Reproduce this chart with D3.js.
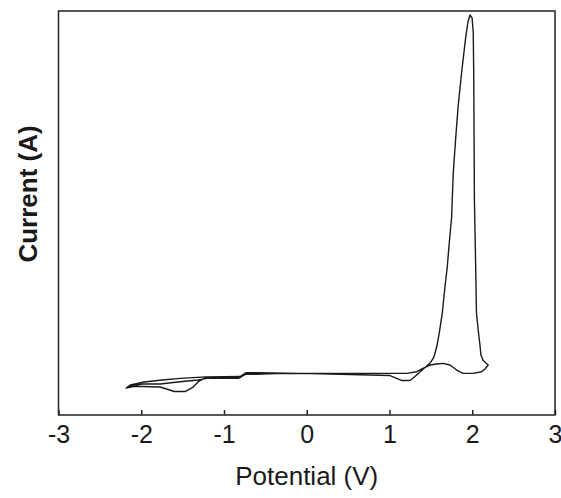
<!DOCTYPE html>
<html>
<head>
	<title>Cyclic voltammogram</title>
	<script src="https://d3js.org/d3.v7.min.js"></script>
	<style>
		body { margin: 0; background: #fff; }
		text { font-family: Arial, "Liberation Sans", sans-serif; fill: #1a1a1a; }
	</style>
</head>
<body>
<script>
// potential (V), current (arbitrary units)
var sweepForward = [
	[-2.182,-4.06], [-2.098,-3.64], [-1.989,-3.64], [-1.772,-3.78], [-1.675,-4.47],
	[-1.603,-5.02], [-1.470,-5.02], [-1.373,-3.78], [-1.301,-2.13], [-1.216,-1.16],
	[-0.806,-1.02], [-0.757,-0.47], [-0.721,-0.06], [-0.588,-0.06], [-0.081,0],
	[0.644,-0.41], [1.006,-0.61], [1.078,-1.30], [1.151,-1.99], [1.248,-1.99],
	[1.308,-0.88], [1.368,0.36], [1.429,1.60], [1.490,2.84], [1.537,4.50],
	[1.570,7.26], [1.601,11.12], [1.638,16.64], [1.670,23.82], [1.698,29.34],
	[1.722,35.96], [1.751,43.14], [1.758,47.83], [1.771,55.58], [1.800,64.96],
	[1.831,74.07], [1.872,83.16], [1.920,92.55], [1.948,96.96], [1.973,98.90],
	[1.998,98.07], [2.012,94.0], [2.018,82.33], [2.026,47.83], [2.040,31.27],
	[2.051,16.64], [2.072,11.95], [2.093,7.81], [2.105,5.05], [2.129,3.67],
	[2.165,2.84], [2.193,2.29]
];
var sweepReverse = [
	[2.193,2.29], [2.153,1.19], [2.114,0.44], [2.008,0], [1.888,0],
	[1.812,0.91], [1.731,2.29], [1.646,2.76], [1.570,2.57], [1.490,2.29],
	[1.405,1.38], [1.329,0.44], [1.208,0], [0.644,0], [-0.081,0],
	[-0.588,0.17], [-0.733,0.17], [-0.769,-0.33], [-0.806,-0.88], [-1.216,-0.97],
	[-1.530,-1.38], [-1.748,-1.85], [-1.989,-2.48], [-2.134,-3.23], [-2.182,-4.06]
];
var sweepSecond = [
	[-2.182,-4.06], [-2.155,-3.70], [-1.993,-2.95], [-1.772,-2.95], [-1.530,-2.32],
	[-1.309,-1.85], [-1.208,-1.38], [-0.826,-1.38], [-0.785,-0.88], [-0.745,-0.28],
	[-0.604,-0.28], [-0.300,0], [0,0]
];
var xTicks = [-3, -2, -1, 0, 1, 2, 3];
var xDomain = [-3, 3];
var yDomain = [-11.5, 100];

var W = 561, H = 498;
var mLeft = 58.5, mRight = 555, mTop = 11, mBottom = 415;

var svg = d3.select("body")
	.append("svg")
	.attr("width", W)
	.attr("height", H);

var x = d3.scaleLinear().domain(xDomain).range([mLeft, mRight]);
var y = d3.scaleLinear().domain(yDomain).range([mBottom, mTop]);

// x axis, ticks pointing into the plot
var xAxis = svg.append("g")
	.attr("transform", "translate(0," + mBottom + ")")
	.call(d3.axisBottom(x).tickValues(xTicks).tickFormat(d3.format("d"))
		.tickSizeInner(-5).tickSizeOuter(0).tickPadding(10));
xAxis.select(".domain").remove();
xAxis.selectAll("line").attr("stroke", "#222").attr("stroke-width", 1.5);
xAxis.selectAll("text")
	.style("font-size", "25px")
	.attr("fill", "#1a1a1a")
	.attr("font-family", "Arial, 'Liberation Sans', sans-serif")
	.text(function(d) { return d < 0 ? "-" + Math.abs(d) : d; });

// frame
svg.append("rect")
	.attr("x", mLeft).attr("y", mTop)
	.attr("width", mRight - mLeft).attr("height", mBottom - mTop)
	.attr("fill", "none")
	.attr("stroke", "#222")
	.attr("stroke-width", 1.5);

var line = d3.line()
	.x(function(d) { return x(d[0]); })
	.y(function(d) { return y(d[1]); });

var allPoints = sweepForward.concat(sweepReverse.slice(1), sweepSecond.slice(1));
svg.append("path")
	.datum(allPoints)
	.attr("d", line)
	.attr("fill", "none")
	.attr("stroke", "#1a1a1a")
	.attr("stroke-width", 1.4)
	.attr("stroke-linejoin", "round");

svg.append("text")
	.attr("x", (mLeft + mRight) / 2)
	.attr("y", 485)
	.attr("text-anchor", "middle")
	.style("font-size", "26px")
	.text("Potential (V)");

svg.append("text")
	.attr("transform", "translate(37,194) rotate(-90)")
	.attr("text-anchor", "middle")
	.style("font-size", "26px")
	.style("font-weight", "bold")
	.text("Current (A)");
</script>
</body>
</html>
